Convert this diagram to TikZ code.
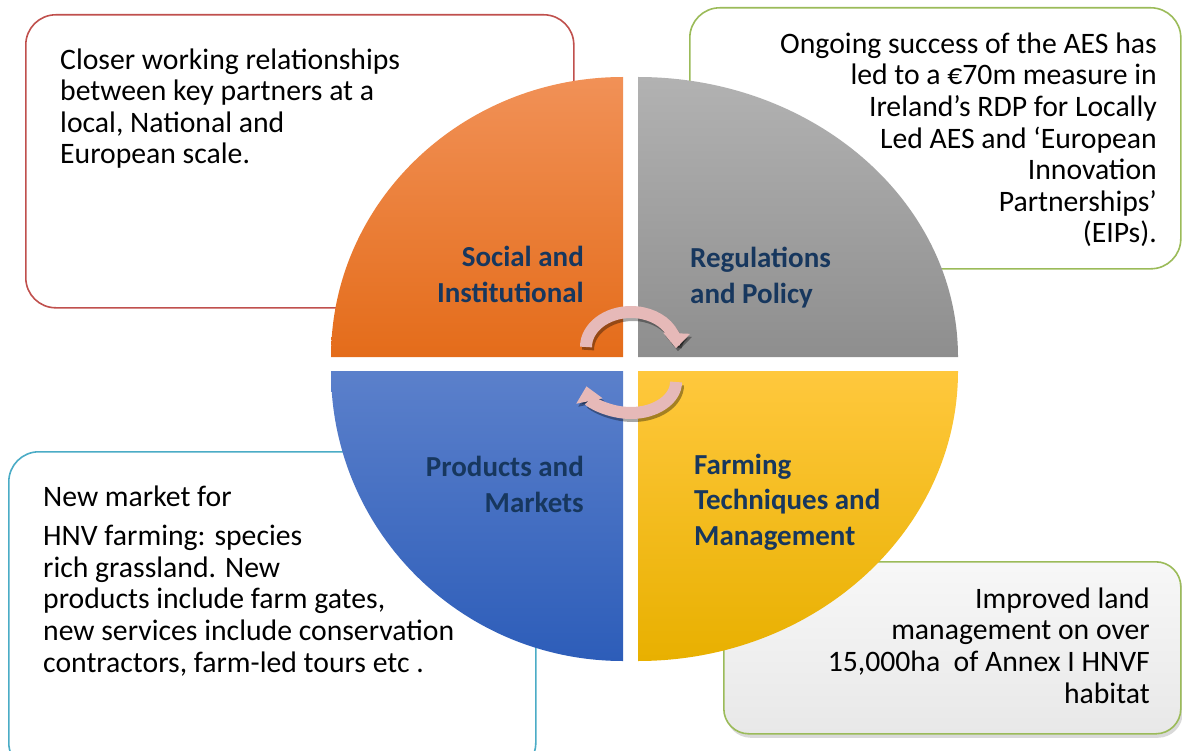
\documentclass[tikz,border=0pt]{standalone}
\usepackage{fontspec}
\setmainfont{Carlito}
\usetikzlibrary{arrows.meta}
\usetikzlibrary{shadows}

\definecolor{boxred}{HTML}{C0504D}
\definecolor{boxgreen}{HTML}{9BBB59}
\definecolor{boxteal}{HTML}{4BACC6}
\definecolor{labelblue}{HTML}{17375E}
\definecolor{arrowpink}{HTML}{E6B9B8}

\begin{document}
\begin{tikzpicture}[x=1pt,y=-1pt,
	box/.style={draw,line width=1.6pt,rounded corners=30pt,fill=white,inner sep=0pt,anchor=north west},
	note/.style={font=\fontsize{29.7}{31.6}\selectfont,inner sep=0pt},
	quadlabel/.style={font=\fontsize{29}{35.5}\selectfont\bfseries,text=labelblue,inner sep=0pt},
	turnarrow/.style={line width=12pt,draw=arrowpink,-{Triangle[width=26pt,length=15pt]}},
	turnshadow/.style={line width=12pt,draw=black,opacity=.35,-{Triangle[width=26pt,length=15pt]}}]

	\clip (0,0) rectangle (1182,751);

	% boxes
	\node[box, draw=boxred, minimum width=548pt, minimum height=293pt] (closer) at (25,14) {};
	\node[box, draw=boxgreen, minimum width=491pt, minimum height=261pt] (ongoing) at (689,7) {};
	\node[box, draw=boxteal, minimum width=527pt, minimum height=321pt] (market) at (8,451) {};
	\node[box, draw=boxgreen, rounded corners=25pt, top color=white!97!black, bottom color=white!91!black,
		drop shadow={shadow xshift=2pt,shadow yshift=-4pt,opacity=.3},
		minimum width=457pt, minimum height=172pt] (improved) at (723,561) {};

	% quadrants
	\shade[top color={rgb,255:red,241;green,145;blue,87}, bottom color={rgb,255:red,228;green,108;blue,26}]
		(623,357) -- (331,357) arc[start angle=180, end angle=270, x radius=292, y radius=280] -- cycle;
	\shade[top color={rgb,255:red,178;green,178;blue,178}, bottom color={rgb,255:red,142;green,142;blue,142}]
		(638,357) -- (638,77) arc[start angle=270, end angle=360, x radius=320, y radius=280] -- cycle;
	\shade[top color={rgb,255:red,91;green,128;blue,203}, bottom color={rgb,255:red,45;green,93;blue,185}]
		(623,371) -- (623,661) arc[start angle=90, end angle=180, x radius=292, y radius=290] -- cycle;
	\shade[top color={rgb,255:red,255;green,200;blue,61}, bottom color={rgb,255:red,232;green,176;blue,0}]
		(638,371) -- (958,371) arc[start angle=0, end angle=90, x radius=320, y radius=290] -- cycle;

	% labels (base = last line)
	\node[quadlabel, align=right, anchor=base east] (social) at (584,302) {Social and\\Institutional};
	\node[quadlabel, align=left, anchor=base west] (regul) at (690,303) {Regulations\\and Policy};
	\node[quadlabel, align=right, anchor=base east] (prod) at (584,512) {Products and\\Markets};
	\node[quadlabel, align=left, anchor=base west] (farm) at (694,545) {Farming\\Techniques and\\Management};

	% texts
	\node[note, align=left, anchor=base west] (closertext) at (60,164)
		{Closer working relationships\\between key partners at a\\local, National and\\European scale.};
	\node[note, align=right, anchor=base east] (ongoingtext) at (1157,243)
		{Ongoing success of the AES has\\led to a €70m measure in\\Ireland’s RDP for Locally\\Led AES and ‘European\\Innovation\\Partnerships’\\(EIPs).};
	\node[note, align=left, anchor=base west] (markettext) at (43,672)
		{New market for\\[8pt]HNV farming: species\\rich grassland. New\\products include farm gates,\\new services include conservation\\contractors, farm-led tours etc .};
	\node[note, align=right, anchor=base east] (improvedtext) at (1150,703)
		{Improved land\\management on over\\15,000ha\ \ of Annex I HNVF\\habitat};

	% turning arrows
	\draw[turnshadow, shift={(2,3)}] (586,347) arc[start angle=180, end angle=362, x radius=45, y radius=35];
	\draw[turnarrow] (586,347) arc[start angle=180, end angle=362, x radius=45, y radius=35];
	\draw[turnshadow, shift={(2,3)}] (676,382) arc[start angle=0, end angle=172, x radius=45, y radius=31];
	\draw[turnarrow] (676,382) arc[start angle=0, end angle=172, x radius=45, y radius=31];

\end{tikzpicture}
\end{document}
